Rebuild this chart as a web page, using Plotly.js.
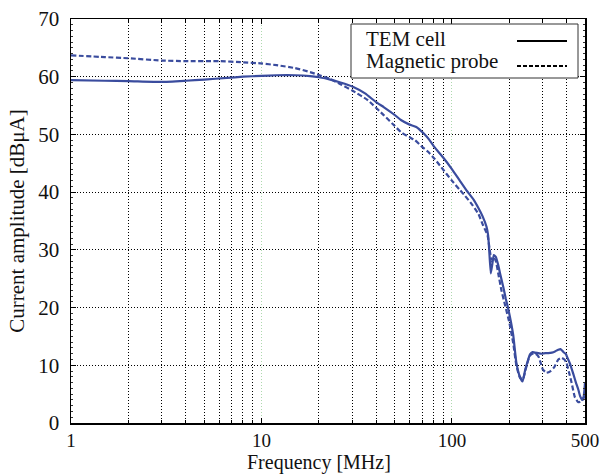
<!DOCTYPE html>
<html>
<head>
<meta charset="utf-8">
<script src="https://cdn.plot.ly/plotly-3.0.1.min.js"></script>
<style>
  html, body { margin: 0; padding: 0; background: #fff; }
  #chart { width: 611px; height: 474px; }
</style>
</head>
<body>
<div id="chart"></div>
<script>
// Induced current spectrum: TEM cell vs. magnetic probe
const temFreq = [1, 1.5, 2, 3, 4, 5, 6.6, 8, 10, 12, 15, 18, 20, 23, 26, 30, 35, 40, 44, 50, 54, 60, 65, 71, 76, 81, 90, 100, 110, 120, 130, 138, 145, 152, 155, 157, 160, 163, 166, 170, 175, 180, 186, 192, 197, 204, 210, 218, 227, 235, 243, 250, 257, 265, 272, 285, 295, 310, 321, 335, 348, 362, 372, 385, 396, 408, 420, 434, 448, 461, 472, 482, 492, 500];
const temAmp  = [59.4, 59.3, 59.25, 59.1, 59.3, 59.5, 59.8, 60.0, 60.15, 60.25, 60.25, 60.1, 59.9, 59.5, 59.0, 58.3, 57.1, 55.6, 54.7, 53.4, 52.5, 51.7, 51.3, 50.2, 49.1, 47.8, 46.0, 44.0, 42.0, 40.2, 38.7, 37.2, 35.8, 34.0, 32.5, 30.0, 25.9, 27.5, 29.1, 28.8, 27.4, 25.6, 23.6, 21.5, 20.0, 17.6, 15.2, 10.5, 8.1, 7.2, 9.3, 10.7, 11.9, 12.3, 12.2, 12.1, 12.0, 12.1, 12.1, 12.2, 12.4, 12.7, 12.8, 12.3, 12.0, 11.0, 10.0, 8.5, 7.0, 5.8, 4.6, 4.0, 4.6, 7.0];

const probeFreq = [1, 1.5, 2, 3, 4, 6, 8, 10, 12, 15, 18, 20, 23, 26, 30, 36, 44, 50, 54, 60, 64, 70, 75, 81, 88, 100, 110, 117, 128, 138, 146, 154, 158, 162, 166, 170, 175, 182, 190, 200, 210, 218, 228, 236, 245, 256, 265, 275, 285, 292, 300, 314, 330, 345, 362, 377, 390, 400, 412, 425, 442, 461, 480, 492, 500];
const probeAmp  = [63.7, 63.4, 63.2, 62.8, 62.7, 62.7, 62.5, 62.3, 62.0, 61.5, 60.8, 60.3, 59.6, 58.7, 57.6, 56.0, 53.3, 51.5, 50.4, 49.5, 49.0, 47.8, 47.0, 45.8, 44.3, 42.0, 40.4, 39.4, 37.8, 36.2, 34.2, 32.5, 30.0, 28.0, 28.5, 28.1, 26.0, 23.0, 20.5, 17.5, 13.8, 10.0, 7.8, 7.6, 9.5, 11.6, 12.0, 12.0, 11.5, 10.5, 9.3, 8.7, 9.0, 9.7, 11.0, 11.3, 11.0, 10.4, 8.8, 7.0, 4.5, 3.6, 3.8, 4.3, 5.0];

const seriesNames = ['TEM cell', 'Magnetic probe'];
const xTitle = 'Frequency [MHz]';
const yTitle = 'Current amplitude [dBμA]';
const xTickVals = [1, 10, 100, 500];
const xTickText = ['1', '10', '100', '500'];
const xMinorVals = [2, 3, 4, 5, 6, 7, 8, 9, 20, 30, 40, 50, 60, 70, 80, 90, 200, 300, 400];

const curveColor = '#3a4c9e';
const serif = 'Liberation Serif, Times New Roman, serif';
const fs = 21;

const traces = [
  {
    x: temFreq, y: temAmp, name: seriesNames[0], type: 'scatter', mode: 'lines',
    line: { color: curveColor, width: 2.2, shape: 'spline', smoothing: 0.4 }
  },
  {
    x: probeFreq, y: probeAmp, name: seriesNames[1], type: 'scatter', mode: 'lines',
    line: { color: curveColor, width: 2.2, dash: '5px,2.5px', shape: 'spline', smoothing: 0.4 }
  }
];

// plot area in pixels, used to place the hand-built legend and x title
const L = 71, R = 585, T = 19, B = 423;
const px = v => (v - L) / (R - L);
const py = v => (B - v) / (B - T);

const layout = {
  width: 611, height: 474,
  margin: { l: L, r: 611 - R, t: T, b: 474 - B },
  paper_bgcolor: '#fff', plot_bgcolor: '#fff',
  showlegend: false,
  font: { family: serif, size: fs, color: '#111' },
  xaxis: {
    type: 'log',
    range: [0, Math.log10(500)],
    tickmode: 'array', tickvals: xTickVals, ticktext: xTickText,
    ticks: 'inside', ticklen: 5, tickwidth: 1, tickcolor: '#000',
    showline: true, linecolor: '#000', linewidth: 1.5, mirror: 'ticks',
    showgrid: true, gridcolor: 'rgba(140,200,140,0.7)', gridwidth: 1, griddash: '1px,2px',
    minor: {
      tickmode: 'array', tickvals: xMinorVals,
      ticks: 'inside', ticklen: 3, tickwidth: 1, tickcolor: '#000',
      showgrid: true, gridcolor: '#000', gridwidth: 1, griddash: '1px,2px'
    },
    zeroline: false,
    tickfont: { family: serif, size: 19, color: '#111' },
    ticklabelstandoff: 0
  },
  yaxis: {
    range: [0, 70], dtick: 10,
    ticks: 'inside', ticklen: 5, tickwidth: 1, tickcolor: '#000',
    showline: true, linecolor: '#000', linewidth: 1.5, mirror: 'ticks',
    showgrid: true, gridcolor: '#000', gridwidth: 1, griddash: '1px,2px',
    minor: { dtick: 1, ticks: 'inside', ticklen: 2, tickwidth: 1, tickcolor: '#333', showgrid: false },
    zeroline: false,
    tickfont: { family: serif, size: fs, color: '#111' },
    ticklabelstandoff: 6,
    title: { text: yTitle, font: { family: serif, size: fs, color: '#111' }, standoff: 8 }
  },
  shapes: [
    { type: 'rect', xref: 'paper', yref: 'paper', x0: px(351), x1: px(578), y0: py(78), y1: py(24),
      line: { color: '#333', width: 1 }, fillcolor: '#fff', layer: 'above' },
    { type: 'line', xref: 'paper', yref: 'paper', x0: px(517), x1: px(567), y0: py(41), y1: py(41),
      line: { color: '#000', width: 2 }, layer: 'above' },
    { type: 'line', xref: 'paper', yref: 'paper', x0: px(517), x1: px(567), y0: py(66), y1: py(66),
      line: { color: '#000', width: 2, dash: '4px,2px' }, layer: 'above' }
  ],
  annotations: [
    { xref: 'paper', yref: 'paper', x: px(364), y: py(39), xanchor: 'left', yanchor: 'middle',
      text: seriesNames[0], showarrow: false, font: { family: serif, size: fs, color: '#111' } },
    { xref: 'paper', yref: 'paper', x: px(364), y: py(61), xanchor: 'left', yanchor: 'middle',
      text: seriesNames[1], showarrow: false, font: { family: serif, size: fs, color: '#111' } },
    // x-axis title, set just above the bottom edge
    { xref: 'paper', yref: 'paper', x: px(319), y: py(476), xanchor: 'center', yanchor: 'bottom',
      text: xTitle, showarrow: false, font: { family: serif, size: 20, color: '#111' } }
  ]
};

Plotly.newPlot('chart', traces, layout, { staticPlot: true, displayModeBar: false });
</script>
</body>
</html>
